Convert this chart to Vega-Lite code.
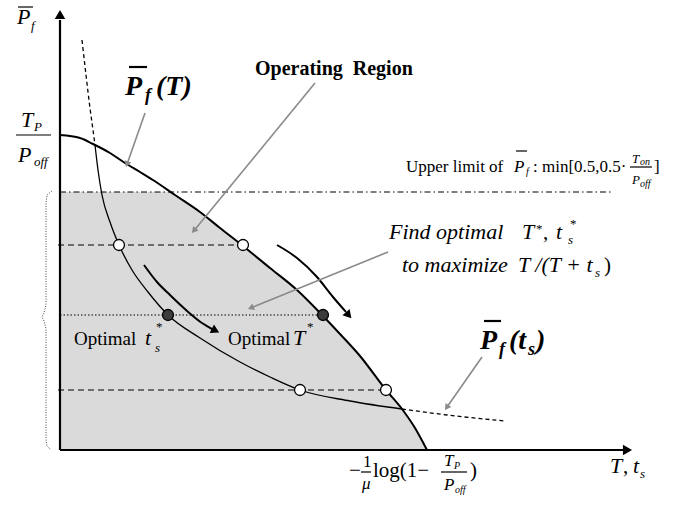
{
"$schema":"https://vega.github.io/schema/vega-lite/v6.json",
"width":678,"height":519,"padding":0,
"autosize":{"type":"fit","contains":"padding"},
"config":{"view":{"stroke":null}},
"datasets":{
"region":[{"x":0,"y":25.8},{"x":11.0,"y":25.8},{"x":11.5,"y":25.5},{"x":14,"y":23.8},{"x":16,"y":22.2},{"x":18.3,"y":20.4},{"x":21,"y":18.2},{"x":23.7,"y":16.0},{"x":26.3,"y":13.4},{"x":28,"y":11.6},{"x":30,"y":9.4},{"x":32.6,"y":6.0},{"x":34.2,"y":4.1},{"x":35.5,"y":2.2},{"x":36.7,"y":0}],
"curves":[
{"s":"xaxis","i":0,"x":0,"y":0},{"s":"xaxis","i":1,"x":56.3,"y":0},
{"s":"yaxis","i":0,"x":0,"y":0},{"s":"yaxis","i":1,"x":0,"y":43.0},
{"s":"T","i":0,"x":0,"y":31.5},{"s":"T","i":1,"x":2,"y":31.2},{"s":"T","i":2,"x":3.3,"y":30.6},{"s":"T","i":3,"x":5,"y":29.7},{"s":"T","i":4,"x":6.5,"y":28.7},{"s":"T","i":5,"x":8,"y":27.8},{"s":"T","i":6,"x":9.3,"y":27.0},{"s":"T","i":7,"x":11.5,"y":25.5},{"s":"T","i":8,"x":14,"y":23.8},{"s":"T","i":9,"x":16,"y":22.2},{"s":"T","i":10,"x":18.3,"y":20.4},{"s":"T","i":11,"x":21,"y":18.2},{"s":"T","i":12,"x":23.7,"y":16.0},{"s":"T","i":13,"x":26.3,"y":13.4},{"s":"T","i":14,"x":28,"y":11.6},{"s":"T","i":15,"x":30,"y":9.4},{"s":"T","i":16,"x":32.6,"y":6.0},{"s":"T","i":17,"x":34.2,"y":4.1},{"s":"T","i":18,"x":35.5,"y":2.2},{"s":"T","i":19,"x":36.7,"y":0},
{"s":"ts_d1","i":0,"x":2.2,"y":41.0},{"s":"ts_d1","i":1,"x":2.6,"y":37.5},{"s":"ts_d1","i":2,"x":3.0,"y":34.2},{"s":"ts_d1","i":3,"x":3.3,"y":32.0},{"s":"ts_d1","i":4,"x":3.5,"y":30.5},
{"s":"ts","i":0,"x":3.5,"y":30.5},{"s":"ts","i":1,"x":3.8,"y":28.0},{"s":"ts","i":2,"x":4.2,"y":25.5},{"s":"ts","i":3,"x":5.0,"y":22.8},{"s":"ts","i":4,"x":5.9,"y":20.5},{"s":"ts","i":5,"x":7.2,"y":18.0},{"s":"ts","i":6,"x":8.8,"y":15.8},{"s":"ts","i":7,"x":10.8,"y":13.5},{"s":"ts","i":8,"x":14.0,"y":11.2},{"s":"ts","i":9,"x":18.0,"y":8.8},{"s":"ts","i":10,"x":21.0,"y":7.3},{"s":"ts","i":11,"x":24.0,"y":6.0},{"s":"ts","i":12,"x":29.0,"y":4.9},{"s":"ts","i":13,"x":34.2,"y":4.1},
{"s":"ts_d2","i":0,"x":34.2,"y":4.1},{"s":"ts_d2","i":1,"x":38.7,"y":3.5},{"s":"ts_d2","i":2,"x":44.5,"y":2.9},
{"s":"h1","i":0,"x":-0.2,"y":20.5},{"s":"h1","i":1,"x":18.3,"y":20.5},
{"s":"h2","i":0,"x":-0.2,"y":6.0},{"s":"h2","i":1,"x":32.6,"y":6.0},
{"s":"h3","i":0,"x":0,"y":13.5},{"s":"h3","i":1,"x":26.3,"y":13.5},
{"s":"lim","i":0,"x":0,"y":25.8},{"s":"lim","i":1,"x":55.3,"y":25.8},
{"s":"brace","i":0,"x":-0.8,"y":25.9},{"s":"brace","i":1,"x":-1.3,"y":25.5},{"s":"brace","i":2,"x":-1.4,"y":24.6},{"s":"brace","i":3,"x":-1.4,"y":14.5},{"s":"brace","i":4,"x":-1.6,"y":13.7},{"s":"brace","i":5,"x":-1.8,"y":13.3},{"s":"brace","i":6,"x":-1.6,"y":12.9},{"s":"brace","i":7,"x":-1.4,"y":12.1},{"s":"brace","i":8,"x":-1.4,"y":1.0},{"s":"brace","i":9,"x":-1.3,"y":0.4},{"s":"brace","i":10,"x":-0.9,"y":0.0},
{"s":"arr1","i":0,"x":8.4,"y":18.5},{"s":"arr1","i":1,"x":9.7,"y":16.8},{"s":"arr1","i":2,"x":11.0,"y":15.5},{"s":"arr1","i":3,"x":12.6,"y":14.0},{"s":"arr1","i":4,"x":14.2,"y":12.7},{"s":"arr1","i":5,"x":15.3,"y":12.05},
{"s":"arr2","i":0,"x":21.7,"y":20.5},{"s":"arr2","i":1,"x":23.7,"y":19.2},{"s":"arr2","i":2,"x":25.7,"y":17.3},{"s":"arr2","i":3,"x":27.3,"y":15.3},{"s":"arr2","i":4,"x":28.6,"y":13.8},
{"s":"g1","i":0,"x":8.5,"y":33.7},{"s":"g1","i":1,"x":6.7,"y":28.58},
{"s":"g2","i":0,"x":25.5,"y":36.7},{"s":"g2","i":1,"x":13.39,"y":21.93},
{"s":"g3","i":0,"x":32.8,"y":19.8},{"s":"g3","i":1,"x":19.08,"y":14.21},
{"s":"g4","i":0,"x":42.2,"y":9.3},{"s":"g4","i":1,"x":38.67,"y":4.25},
{"s":"bar","i":0,"x":-4.2,"y":44.3},{"s":"bar","i":1,"x":-2.7,"y":44.3},
{"s":"fracL","i":0,"x":-4.4,"y":31.5},{"s":"fracL","i":1,"x":-0.9,"y":31.5},
{"s":"upbar","i":0,"x":45.6,"y":29.9},{"s":"upbar","i":1,"x":46.7,"y":29.9},
{"s":"upfrac","i":0,"x":57.0,"y":28.3},{"s":"upfrac","i":1,"x":59.2,"y":28.3},
{"s":"bfrac1","i":0,"x":30.1,"y":-2.2},{"s":"bfrac1","i":1,"x":31.1,"y":-2.2},
{"s":"bfrac2","i":0,"x":38.1,"y":-2.2},{"s":"bfrac2","i":1,"x":40.7,"y":-2.2},
{"s":"pfTbar","i":0,"x":6.9,"y":38.3},{"s":"pfTbar","i":1,"x":8.7,"y":38.3},
{"s":"pftsbar","i":0,"x":42.4,"y":12.9},{"s":"pftsbar","i":1,"x":44.1,"y":12.9}
],
"circles":[{"k":"open","x":5.9,"y":20.5},{"k":"open","x":18.3,"y":20.5},{"k":"open","x":24.0,"y":6.0},{"k":"open","x":32.6,"y":6.0},{"k":"dark","x":10.8,"y":13.5},{"k":"dark","x":26.3,"y":13.5}],
"heads":[{"h":"x","x":56.75,"y":0},{"h":"y","x":0,"y":43.55},{"h":"a1","x":15.55,"y":11.93},{"h":"a2","x":28.87,"y":13.48},{"h":"g1","x":6.7,"y":28.58},{"h":"g2","x":13.39,"y":21.93},{"h":"g3","x":19.08,"y":14.21},{"h":"g4","x":38.67,"y":4.25}],
"it22":[{"x":-4.3,"y":42.6,"t":"P"},{"x":-3.9,"y":32.3,"t":"T"},{"x":-4.2,"y":28.8,"t":"P"},{"x":32.9,"y":21.1,"t":"Find optimal"},{"x":46.2,"y":21.1,"t":"T"},{"x":49.6,"y":21.1,"t":"t"},{"x":34.2,"y":17.8,"t":"to maximize"},{"x":45.8,"y":17.8,"t":"T /(T + t"},{"x":55.0,"y":-2.3,"t":"T"},{"x":57.3,"y":-2.3,"t":"t"},{"x":8.5,"y":10.5,"t":"t"},{"x":23.3,"y":10.5,"t":"T"}],
"it13":[{"x":-2.9,"y":42.0,"t":"f"},{"x":-2.6,"y":31.9,"t":"P"},{"x":-2.6,"y":28.4,"t":"off"},{"x":50.8,"y":20.6,"t":"s"},{"x":53.5,"y":17.3,"t":"s"},{"x":9.5,"y":9.8,"t":"s"},{"x":58.0,"y":-2.8,"t":"s"},{"x":57.2,"y":28.7,"t":"T"},{"x":57.2,"y":26.6,"t":"P"}],
"it17":[{"x":45.4,"y":27.8,"t":"P"},{"x":38.4,"y":-1.6,"t":"T"},{"x":38.4,"y":-4.0,"t":"P"},{"x":30.2,"y":-3.9,"t":"μ"}],
"it10":[{"x":46.6,"y":27.5,"t":"f"},{"x":58.0,"y":28.5,"t":"on"},{"x":58.0,"y":26.3,"t":"off"},{"x":39.4,"y":-1.9,"t":"P"},{"x":39.5,"y":-4.3,"t":"off"}],
"rm17":[{"x":34.6,"y":27.8,"t":"Upper limit of"},{"x":47.3,"y":27.8,"t":":  min[0.5,0.5·"},{"x":59.4,"y":27.8,"t":"]"},{"x":30.3,"y":-1.7,"t":"1"}],
"rm21":[{"x":48.3,"y":21.1,"t":","},{"x":54.4,"y":17.8,"t":")"},{"x":28.9,"y":-2.7,"t":"−"},{"x":31.3,"y":-2.7,"t":"log(1−"},{"x":41.0,"y":-2.7,"t":")"},{"x":56.3,"y":-2.3,"t":","}],
"rm19":[{"x":1.4,"y":10.5,"t":"Optimal"},{"x":16.8,"y":10.5,"t":"Optimal"}],
"star":[{"x":47.6,"y":21.7,"t":"*"},{"x":51.0,"y":22.2,"t":"*"},{"x":9.6,"y":11.9,"t":"*"},{"x":24.7,"y":11.9,"t":"*"}],
"bi28":[{"x":6.5,"y":35.5,"t":"P"},{"x":9.6,"y":35.5,"t":"(T)"},{"x":42.0,"y":10.1,"t":"P"},{"x":44.9,"y":10.1,"t":"(t"},{"x":47.6,"y":10.1,"t":")"}],
"bi18":[{"x":8.5,"y":34.9,"t":"f"},{"x":43.9,"y":9.5,"t":"f"},{"x":46.8,"y":9.5,"t":"s"}],
"b20":[{"x":19.5,"y":37.5,"t":"Operating\u00a0 Region"}]
},
"encoding":{
"x":{"field":"x","type":"quantitative","scale":{"domain":[-6,61.8],"nice":false,"zero":false},"axis":null},
"y":{"field":"y","type":"quantitative","scale":{"domain":[-6.9,45],"nice":false,"zero":false},"axis":null}
},
"layer":[
{"data":{"name":"region"},"mark":{"type":"area","color":"#dadada","interpolate":"monotone"},"encoding":{"y2":{"datum":0}}},
{"data":{"name":"curves"},"transform":[{"filter":{"field":"s","oneOf":["lim"]}}],"mark":{"type":"line","color":"black","strokeWidth":1,"strokeDash":[6,3,1.5,3]},"encoding":{"order":{"field":"i"},"detail":{"field":"s"}}},
{"data":{"name":"curves"},"transform":[{"filter":{"field":"s","oneOf":["h1","h2"]}}],"mark":{"type":"line","color":"black","strokeWidth":1.2,"strokeDash":[6,4]},"encoding":{"order":{"field":"i"},"detail":{"field":"s"}}},
{"data":{"name":"curves"},"transform":[{"filter":{"field":"s","oneOf":["h3"]}}],"mark":{"type":"line","color":"black","strokeWidth":1,"strokeDash":[1.5,2]},"encoding":{"order":{"field":"i"},"detail":{"field":"s"}}},
{"data":{"name":"curves"},"transform":[{"filter":{"field":"s","oneOf":["brace"]}}],"mark":{"type":"line","color":"#444444","strokeWidth":1,"strokeDash":[1,1.5]},"encoding":{"order":{"field":"i"},"detail":{"field":"s"}}},
{"data":{"name":"curves"},"transform":[{"filter":{"field":"s","oneOf":["xaxis","yaxis"]}}],"mark":{"type":"line","color":"black","strokeWidth":2.2},"encoding":{"order":{"field":"i"},"detail":{"field":"s"}}},
{"data":{"name":"curves"},"transform":[{"filter":{"field":"s","oneOf":["T"]}}],"mark":{"type":"line","color":"black","strokeWidth":2,"interpolate":"monotone"},"encoding":{"order":{"field":"i"},"detail":{"field":"s"}}},
{"data":{"name":"curves"},"transform":[{"filter":{"field":"s","oneOf":["ts"]}}],"mark":{"type":"line","color":"black","strokeWidth":1.3,"interpolate":"monotone"},"encoding":{"order":{"field":"i"},"detail":{"field":"s"}}},
{"data":{"name":"curves"},"transform":[{"filter":{"field":"s","oneOf":["ts_d1","ts_d2"]}}],"mark":{"type":"line","color":"black","strokeWidth":1.3,"strokeDash":[4,3],"interpolate":"monotone"},"encoding":{"order":{"field":"i"},"detail":{"field":"s"}}},
{"data":{"name":"curves"},"transform":[{"filter":{"field":"s","oneOf":["arr1","arr2"]}}],"mark":{"type":"line","color":"black","strokeWidth":2,"interpolate":"monotone"},"encoding":{"order":{"field":"i"},"detail":{"field":"s"}}},
{"data":{"name":"curves"},"transform":[{"filter":{"field":"s","oneOf":["g1","g2","g3","g4"]}}],"mark":{"type":"line","color":"#8a8a8a","strokeWidth":1.6},"encoding":{"order":{"field":"i"},"detail":{"field":"s"}}},
{"data":{"name":"curves"},"transform":[{"filter":{"field":"s","oneOf":["bar","fracL","upbar","upfrac","bfrac1","bfrac2"]}}],"mark":{"type":"line","color":"black","strokeWidth":1.2},"encoding":{"order":{"field":"i"},"detail":{"field":"s"}}},
{"data":{"name":"curves"},"transform":[{"filter":{"field":"s","oneOf":["pfTbar","pftsbar"]}}],"mark":{"type":"line","color":"black","strokeWidth":2.2},"encoding":{"order":{"field":"i"},"detail":{"field":"s"}}},
{"data":{"name":"circles"},"transform":[{"filter":{"field":"k","equal":"open"}}],"mark":{"type":"point","shape":"circle","filled":true,"fill":"white","stroke":"black","strokeWidth":1.3,"size":120,"opacity":1}},
{"data":{"name":"circles"},"transform":[{"filter":{"field":"k","equal":"dark"}}],"mark":{"type":"point","shape":"circle","filled":true,"fill":"#3c3c3c","stroke":"black","strokeWidth":1.3,"size":120,"opacity":1}},
{"data":{"name":"heads"},"transform":[{"filter":{"field":"h","equal":"x"}}],"mark":{"type":"point","shape":"triangle-right","filled":true,"color":"black","size":110,"opacity":1}},
{"data":{"name":"heads"},"transform":[{"filter":{"field":"h","equal":"y"}}],"mark":{"type":"point","shape":"triangle-up","filled":true,"color":"black","size":110,"opacity":1}},
{"data":{"name":"heads"},"transform":[{"filter":{"field":"h","equal":"a1"}}],"mark":{"type":"point","shape":"triangle-right","angle":27,"filled":true,"color":"black","size":90,"opacity":1}},
{"data":{"name":"heads"},"transform":[{"filter":{"field":"h","equal":"a2"}}],"mark":{"type":"point","shape":"triangle-right","angle":49,"filled":true,"color":"black","size":90,"opacity":1}},
{"data":{"name":"heads"},"transform":[{"filter":{"field":"h","equal":"g1"}}],"mark":{"type":"point","shape":"triangle-right","angle":109,"filled":true,"color":"#8a8a8a","size":50,"opacity":1}},
{"data":{"name":"heads"},"transform":[{"filter":{"field":"h","equal":"g2"}}],"mark":{"type":"point","shape":"triangle-right","angle":129,"filled":true,"color":"#8a8a8a","size":50,"opacity":1}},
{"data":{"name":"heads"},"transform":[{"filter":{"field":"h","equal":"g3"}}],"mark":{"type":"point","shape":"triangle-right","angle":158,"filled":true,"color":"#8a8a8a","size":50,"opacity":1}},
{"data":{"name":"heads"},"transform":[{"filter":{"field":"h","equal":"g4"}}],"mark":{"type":"point","shape":"triangle-right","angle":125,"filled":true,"color":"#8a8a8a","size":50,"opacity":1}},
{"data":{"name":"it22"},"mark":{"type":"text","font":"Liberation Serif","fontSize":22,"fontStyle":"italic","align":"left","baseline":"alphabetic","color":"black"},"encoding":{"text":{"field":"t"}}},
{"data":{"name":"it13"},"mark":{"type":"text","font":"Liberation Serif","fontSize":13,"fontStyle":"italic","align":"left","baseline":"alphabetic","color":"black"},"encoding":{"text":{"field":"t"}}},
{"data":{"name":"it17"},"mark":{"type":"text","font":"Liberation Serif","fontSize":17,"fontStyle":"italic","align":"left","baseline":"alphabetic","color":"black"},"encoding":{"text":{"field":"t"}}},
{"data":{"name":"it10"},"mark":{"type":"text","font":"Liberation Serif","fontSize":10,"fontStyle":"italic","align":"left","baseline":"alphabetic","color":"black"},"encoding":{"text":{"field":"t"}}},
{"data":{"name":"rm17"},"mark":{"type":"text","font":"Liberation Serif","fontSize":17,"align":"left","baseline":"alphabetic","color":"black"},"encoding":{"text":{"field":"t"}}},
{"data":{"name":"rm21"},"mark":{"type":"text","font":"Liberation Serif","fontSize":21,"align":"left","baseline":"alphabetic","color":"black"},"encoding":{"text":{"field":"t"}}},
{"data":{"name":"rm19"},"mark":{"type":"text","font":"Liberation Serif","fontSize":19,"align":"left","baseline":"alphabetic","color":"black"},"encoding":{"text":{"field":"t"}}},
{"data":{"name":"star"},"mark":{"type":"text","font":"Liberation Serif","fontSize":13,"align":"left","baseline":"alphabetic","color":"black"},"encoding":{"text":{"field":"t"}}},
{"data":{"name":"bi28"},"mark":{"type":"text","font":"Liberation Serif","fontSize":28,"fontStyle":"italic","fontWeight":"bold","align":"left","baseline":"alphabetic","color":"black"},"encoding":{"text":{"field":"t"}}},
{"data":{"name":"bi18"},"mark":{"type":"text","font":"Liberation Serif","fontSize":18,"fontStyle":"italic","fontWeight":"bold","align":"left","baseline":"alphabetic","color":"black"},"encoding":{"text":{"field":"t"}}},
{"data":{"name":"b20"},"mark":{"type":"text","font":"Liberation Serif","fontSize":20,"fontWeight":"bold","align":"left","baseline":"alphabetic","color":"black"},"encoding":{"text":{"field":"t"}}}
]
}
